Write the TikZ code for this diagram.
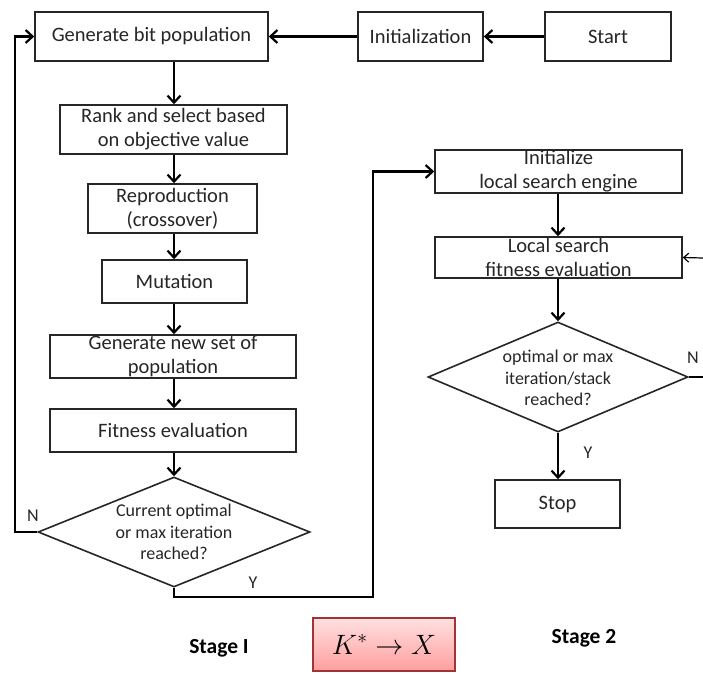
\documentclass[tikz,border=0pt]{standalone}
\usepackage{fix-cm}
\usepackage{fontspec}
\setmainfont{Carlito}
\usetikzlibrary{arrows.meta,shapes.geometric,calc}
\begin{document}
\begin{tikzpicture}[x=1pt,y=-1pt,
  box/.style={draw=black!85, line width=1.6pt, fill=white, inner sep=0pt, align=center,
     font=\fontsize{20.5}{24}\selectfont, text=black!85},
  dia/.style={draw=black!85, line width=1.6pt, diamond, inner sep=0pt},
  diatext/.style={align=center, font=\fontsize{18}{21.5}\selectfont, text=black!85, inner sep=0pt},
  lab/.style={font=\fontsize{18}{20}\selectfont, text=black!85, inner sep=0pt},
  stage/.style={font=\bfseries\fontsize{21.5}{24}\selectfont, inner sep=0pt},
  arr/.style={line width=2.6pt, -{Straight Barb[length=7pt,width=13pt,line width=2.2pt]}},
  ln/.style={line width=2.6pt},
  thin/.style={line width=1.2pt, -{Straight Barb[length=5pt,width=9pt,line width=1.2pt]}}]
\useasboundingbox (0,0) rectangle (703,673);
% Stage 1
\node[box, minimum width=233pt, minimum height=49pt] (gen) at (151.5,36.5) {Generate bit population};
\node[box, minimum width=125pt, minimum height=49pt] (init) at (420.5,36.5) {Initialization};
\node[box, minimum width=126pt, minimum height=49pt] (start) at (608,36.5) {Start};
\node[box, minimum width=227pt, minimum height=49pt] (rank) at (173.5,129.5) {Rank and select based\\on objective value};
\node[box, minimum width=169pt, minimum height=49pt] (repr) at (172.5,208.5) {Reproduction\\(crossover)};
\node[box, minimum width=145pt, minimum height=43pt] (mut) at (174.5,281.5) {Mutation};
\node[box, minimum width=246pt, minimum height=43pt] (gnew) at (173,356.5) {Generate new set of\\population};
\node[box, minimum width=246pt, minimum height=43pt] (fit) at (173,430.5) {Fitness evaluation};
\node[dia, minimum width=272pt, minimum height=110pt] (d1) at (174,532) {};
\node[diatext] (d1t) at (174,532) {Current optimal\\or max iteration\\reached?};
% Stage 2
\node[box, minimum width=247pt, minimum height=43pt] (linit) at (558.5,171.5) {Initialize\\local search engine};
\node[box, minimum width=247pt, minimum height=41pt] (lfit) at (558.5,257.5) {Local search\\fitness evaluation};
\node[dia, minimum width=260pt, minimum height=110pt] (d2) at (558,377) {};
\node[diatext] (d2t) at (558,378) {optimal or max\\iteration/stack\\reached?};
\node[box, minimum width=125pt, minimum height=48pt] (stop) at (557.5,504) {Stop};
% labels
\node[lab] (n1) at (33,516) {N};
\node[lab] (y1) at (253,583) {Y};
\node[lab] (n2) at (693,358) {N};
\node[lab] (y2) at (588,453) {Y};
\node[stage] (s1) at (219,648) {Stage I};
\node[stage] (s2) at (584,638) {Stage 2};
\node[draw=red!55!black!80, line width=1.2pt, top color=red!12, bottom color=red!38,
      minimum width=142pt, minimum height=53pt, inner sep=0pt] (kx) at (384,644.5)
      {\fontsize{28}{32}\selectfont $K^{*}\rightarrow X$};
% coordinates
\coordinate (lft) at (15,532);
\coordinate (c1) at (373,597);
\coordinate (rgt) at (703,377);
\coordinate (rgt2) at (703,258);
% connectors
\draw[arr] (start.west) -- (init.east);
\draw[arr] (init.west) -- (gen.east);
\draw[arr] (gen.south -| d1.north) -- (d1.north |- rank.north);
\draw[arr] (rank.south -| d1.north) -- (d1.north |- repr.north);
\draw[arr] (repr.south -| d1.north) -- (d1.north |- mut.north);
\draw[arr] (mut.south -| d1.north) -- (d1.north |- gnew.north);
\draw[arr] (gnew.south -| d1.north) -- (d1.north |- fit.north);
\draw[arr] (fit.south -| d1.north) -- (d1.north);
\draw[arr] (d1.west) -- (lft) |- (gen.west);
\draw[arr] (d1.south) |- (c1) |- (linit.west);
\draw[arr] (linit.south -| d2.north) -- (d2.north |- lfit.north);
\draw[arr] (lfit.south -| d2.north) -- (d2.north);
\draw[arr] (d2.south) -- (d2.south |- stop.north);
\draw[ln] (d2.east) -- (rgt);
\draw[thin] (rgt2) -- (lfit.east);
\end{tikzpicture}
\end{document}
